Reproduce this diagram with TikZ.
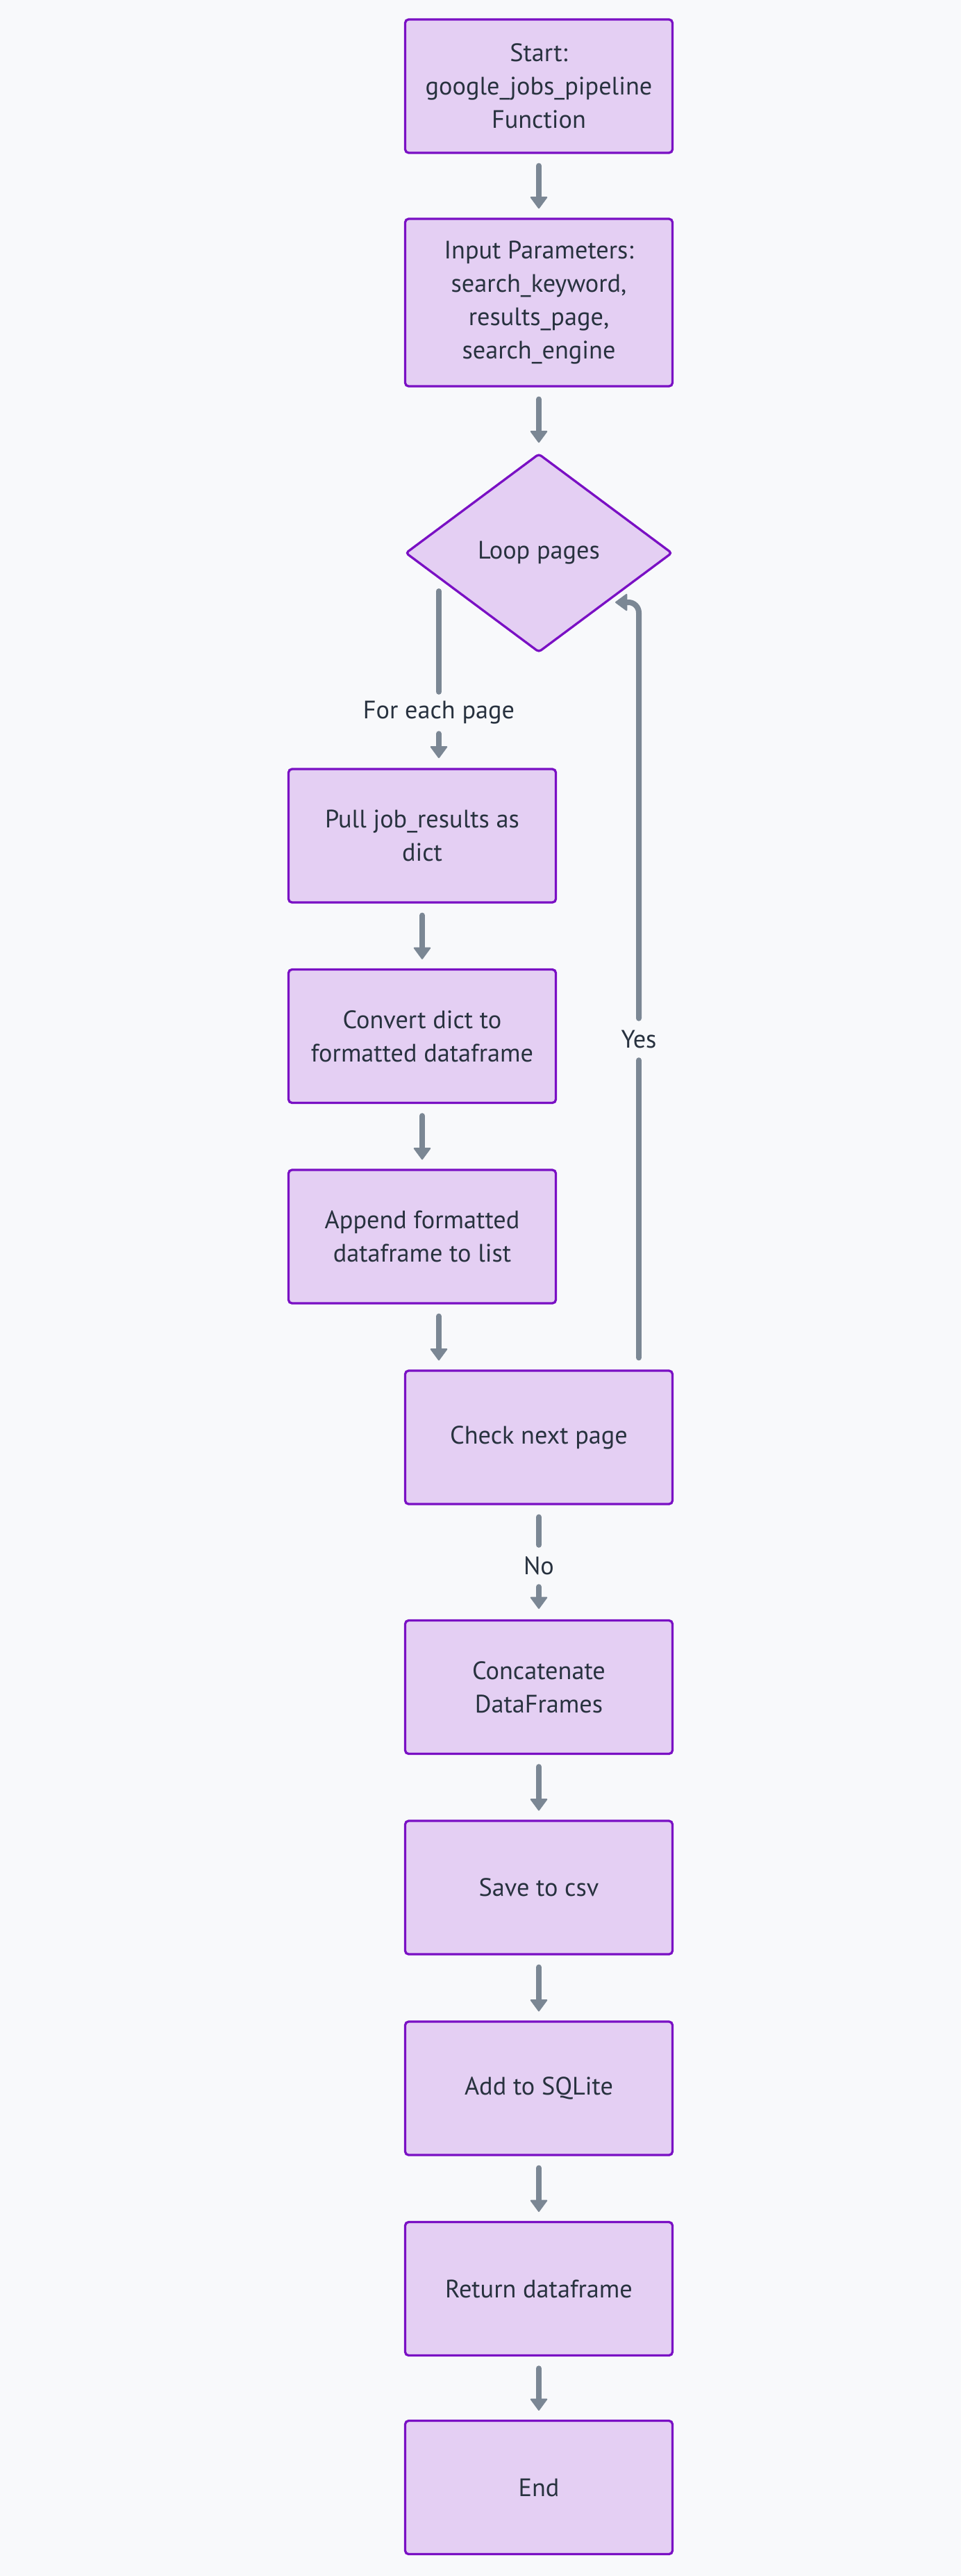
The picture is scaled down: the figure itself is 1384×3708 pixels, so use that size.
\documentclass[tikz,border=0pt]{standalone}
\usepackage{fontspec}
\setmainfont{PT Sans}
\usetikzlibrary{arrows.meta,shapes.geometric,calc}
\definecolor{bg}{HTML}{F8F9FB}
\definecolor{boxfill}{HTML}{E4CFF3}
\definecolor{boxline}{HTML}{7A10C4}
\definecolor{arrowc}{HTML}{7B8794}
\definecolor{txt}{HTML}{28323F}
\begin{document}
\begin{tikzpicture}[x=1pt,y=-1pt,
  txtfont/.style={font=\fontsize{36.3}{48}\selectfont},
  box/.style={draw=boxline, fill=boxfill, line width=3.3pt, rounded corners=5pt,
    minimum width=385pt, minimum height=192pt, inner sep=0pt, align=center,
    text=txt, txtfont},
  dec/.style={diamond, draw=boxline, fill=boxfill, line width=3.3pt, rounded corners=4pt,
    minimum width=384pt, minimum height=286pt, inner sep=0pt, align=center,
    text=txt, txtfont},
  ln/.style={draw=arrowc, line width=8pt, line cap=round},
  arr/.style={ln, -{Triangle[width=26pt,length=18pt,round,line width=2pt]},
    shorten <=17pt, shorten >=13pt},
  lbl/.style={text=txt, txtfont, inner sep=0pt, minimum height=52pt}
]
\fill[bg] (0,0) rectangle (1384,3708);
\useasboundingbox (0,0) rectangle (1384,3708);

\node[box] (start) at (776,124) {Start:\\google\_jobs\_pipeline\\Function};
\node[box, minimum height=241pt] (input) at (776,435.5) {Input Parameters:\\search\_keyword,\\results\_page,\\search\_engine};
\node[dec] (loop) at (776,796) {Loop pages};
\node[box] (pull) at (608,1203) {Pull job\_results as\\dict};
\node[box] (convert) at (608,1491.5) {Convert dict to\\formatted dataframe};
\node[box] (append) at (608,1780) {Append formatted\\dataframe to list};
\node[box] (check) at (776,2069) {Check next page};
\node[box] (concat) at (776,2428.5) {Concatenate\\DataFrames};
\node[box] (save) at (776,2717) {Save to csv};
\node[box] (sqlite) at (776,3006) {Add to SQLite};
\node[box] (ret) at (776,3294.5) {Return dataframe};
\node[box] (fin) at (776,3580.5) {End};

\node[lbl] (l1) at (632,1026) {For each page};
\node[lbl] (lyes) at (920,1496) {Yes};
\node[lbl] (lno) at (776,2254) {No};

\draw[arr] (start) -- (input);
\draw[arr, shorten >=14pt] (input) -- (loop);
\draw[ln, shorten >=4pt] ($(loop.center)+(-144,55)$) -- (l1.north);
\draw[arr, shorten <=4pt, shorten >=14pt] (l1.south) -- (l1.south |- pull.north);
\draw[arr] (pull) -- (convert);
\draw[arr] (convert) -- (append);
\draw[arr] ($(append.south)+(24,0)$) -- ($(check.north)+(-144,0)$);
\draw[ln, shorten <=17pt, shorten >=4pt] ($(check.north)+(144,0)$) -- (lyes.south);
\draw[arr, shorten <=4pt, shorten >=0pt, rounded corners=15pt] (lyes.north) |- ($(loop.center)+(110,71)$);
\draw[ln, shorten <=17pt, shorten >=4pt] (check) -- (lno.north);
\draw[arr, shorten <=4pt, shorten >=15pt] (lno.south) -- (concat);
\draw[arr] (concat) -- (save);
\draw[arr] (save) -- (sqlite);
\draw[arr] (sqlite) -- (ret);
\draw[arr] (ret) -- (fin);
\end{tikzpicture}
\end{document}
